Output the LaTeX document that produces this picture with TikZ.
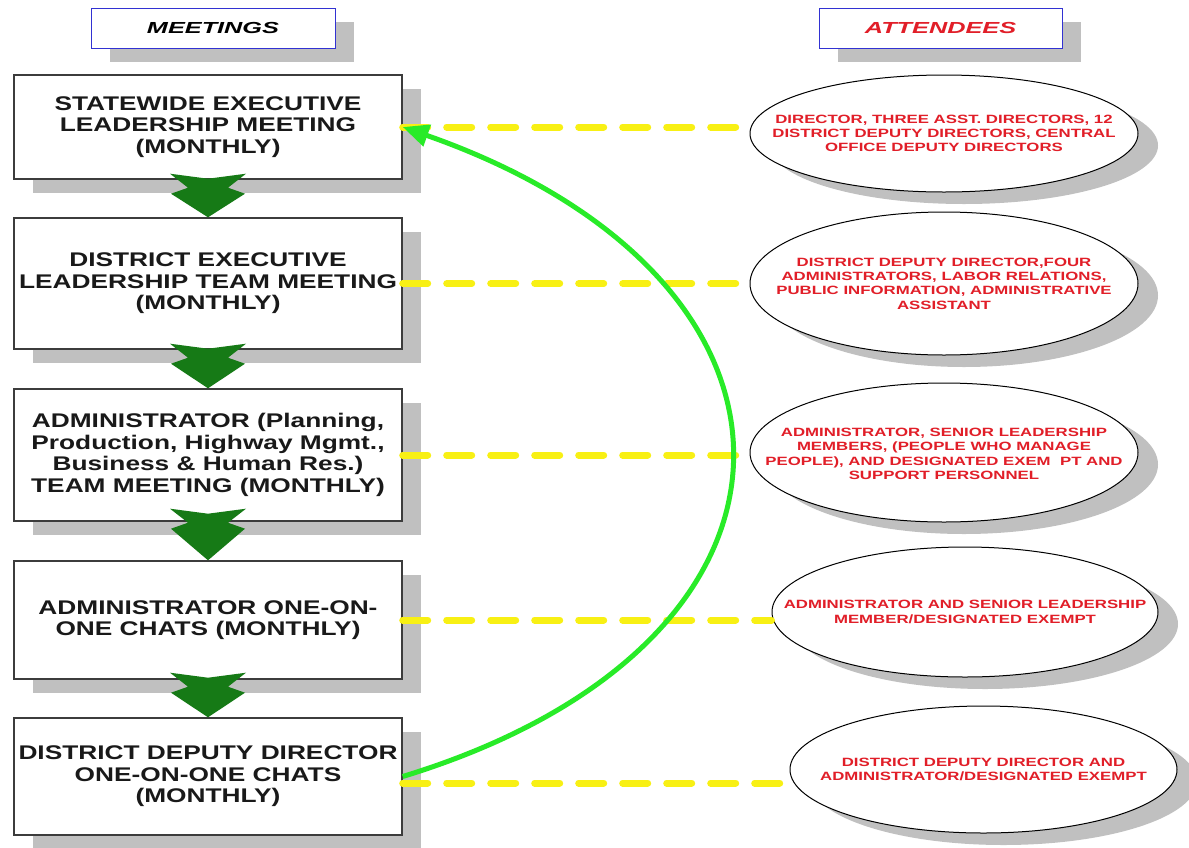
\documentclass[tikz,border=0pt]{standalone}
\usepackage{fontspec}
\setmainfont{Liberation Sans}
\newfontfamily\boxf{Liberation Sans}[FakeStretch=1.33]
\newfontfamily\ellf{Liberation Sans}[FakeStretch=1.40]
\newfontfamily\titf{Liberation Sans}[FakeStretch=1.58]
\usetikzlibrary{shapes.geometric,shadows,arrows.meta,calc}
\definecolor{shadowgray}{RGB}{192,192,192}
\definecolor{chevgreen}{RGB}{22,122,22}
\definecolor{curvegreen}{RGB}{40,235,40}
\definecolor{dashyellow}{RGB}{248,240,20}
\definecolor{txtred}{RGB}{225,30,40}
\definecolor{titleblue}{RGB}{50,50,210}
\definecolor{boxline}{RGB}{60,60,60}
\newcommand\chev[3]{%
  \fill[chevgreen] ($(#1.south)+(-38,-#3)$) -- ($(#1.south)+(0,{5-#3})$) -- ($(#1.south)+(38,-#3)$)
    -- ($(#1.south)+(20,{14-#3})$) -- ($(#1.south)+(37,{20-#3})$) -- (#2.north)
    -- ($(#1.south)+(-37,{20-#3})$) -- ($(#1.south)+(-20,{14-#3})$) -- cycle;}
\begin{document}
\begin{tikzpicture}[x=1pt,y=-1pt,
  meetbox/.style={draw=boxline,line width=1.4pt,fill=white,minimum width=388pt,inner sep=0pt,align=center,
    font={\boxf\bfseries\fontsize{19.75pt}{21.5pt}\selectfont},text=black!90,
    drop shadow={shadow xshift=19pt,shadow yshift=-14pt,opacity=1,fill=shadowgray}},
  titlebox/.style={draw=titleblue,line width=1pt,fill=white,minimum width=244pt,minimum height=40pt,inner sep=0pt,
    font={\titf\bfseries\itshape\fontsize{16pt}{18pt}\selectfont},
    drop shadow={shadow xshift=19pt,shadow yshift=-14pt,opacity=1,fill=shadowgray}},
  attbubble/.style={ellipse,draw=black,line width=1pt,fill=white,inner sep=0pt,
    drop shadow={shadow xshift=20pt,shadow yshift=-12pt,opacity=1,fill=shadowgray}},
  atttext/.style={align=center,inner sep=0pt,text=txtred,
    font={\ellf\bfseries\fontsize{12pt}{14.3pt}\selectfont}},
  ydash/.style={draw=dashyellow,line width=7pt,line cap=round,dash pattern=on 25pt off 19pt},
  gcurve/.style={draw=curvegreen,line width=5pt,-{Triangle[length=26pt,width=22pt]}}]
\useasboundingbox (0,0) rectangle (1189,847);

% titles
\node[titlebox] (mt) at (213,28) {MEETINGS};
\node[titlebox,text=txtred,minimum width=243pt] (at) at (940.5,28) {ATTENDEES};

% meeting boxes
\node[meetbox,minimum height=104pt] (b1) at (208,127) {STATEWIDE EXECUTIVE\\LEADERSHIP MEETING\\(MONTHLY)};
\node[meetbox,minimum height=131pt] (b2) at (208,283.5) {DISTRICT EXECUTIVE\\LEADERSHIP TEAM MEETING\\(MONTHLY)};
\node[meetbox,minimum height=132pt] (b3) at (208,455) {ADMINISTRATOR (Planning,\\Production, Highway Mgmt.,\\Business \& Human Res.)\\TEAM MEETING (MONTHLY)};
\node[meetbox,minimum height=118pt] (b4) at (208,620) {ADMINISTRATOR ONE-ON-\\ONE CHATS (MONTHLY)};
\node[meetbox,minimum height=117pt] (b5) at (208,776.5) {DISTRICT DEPUTY DIRECTOR\\ONE-ON-ONE CHATS\\(MONTHLY)};

% chevrons
\chev{b1}{b2}{6}
\chev{b2}{b3}{6}
\chev{b3}{b4}{13}
\chev{b4}{b5}{7}

% attendee ellipses
\node[attbubble,minimum width=388pt,minimum height=117pt] (e1) at (944,133.5) {};
\node[attbubble,minimum width=388pt,minimum height=143pt] (e2) at (944,283.5) {};
\node[attbubble,minimum width=388pt,minimum height=139pt] (e3) at (944,452.5) {};
\node[attbubble,minimum width=386pt,minimum height=130pt] (e4) at (965,612) {};
\node[attbubble,minimum width=387pt,minimum height=127pt] (e5) at (983.5,769.5) {};

\node[atttext] (t1) at (e1.center) {DIRECTOR, THREE ASST. DIRECTORS, 12\\DISTRICT DEPUTY DIRECTORS, CENTRAL\\OFFICE DEPUTY DIRECTORS};
\node[atttext] (t2) at (e2.center) {DISTRICT DEPUTY DIRECTOR,FOUR\\ADMINISTRATORS, LABOR RELATIONS,\\PUBLIC INFORMATION, ADMINISTRATIVE\\ASSISTANT};
\node[atttext] (t3) at ($(e3.center)+(0,1.5)$) {ADMINISTRATOR, SENIOR LEADERSHIP\\MEMBERS, (PEOPLE WHO MANAGE\\PEOPLE), AND DESIGNATED EXEM~~PT AND\\SUPPORT PERSONNEL};
\node[atttext] (t4) at (e4.center) {ADMINISTRATOR AND SENIOR LEADERSHIP\\MEMBER/DESIGNATED EXEMPT};
\node[atttext] (t5) at (e5.center) {DISTRICT DEPUTY DIRECTOR AND\\ADMINISTRATOR/DESIGNATED EXEMPT};

% dashed links
\coordinate (y5) at ($(b5.east)+(0,6.5)$);
\draw[ydash] (b1.east) -- (b1.east -| e1.west);
\draw[ydash] (b2.east) -- (b2.east -| e2.west);
\draw[ydash] (b3.east) -- (b3.east -| e3.west);
\draw[ydash] (b4.east) -- (b4.east -| e4.west);
\draw[ydash] (y5) -- (y5 -| e5.west);

% feedback curve
\draw[gcurve] (b5.east) .. controls (840,643) and (840,280) .. (b1.east);
\end{tikzpicture}
\end{document}
